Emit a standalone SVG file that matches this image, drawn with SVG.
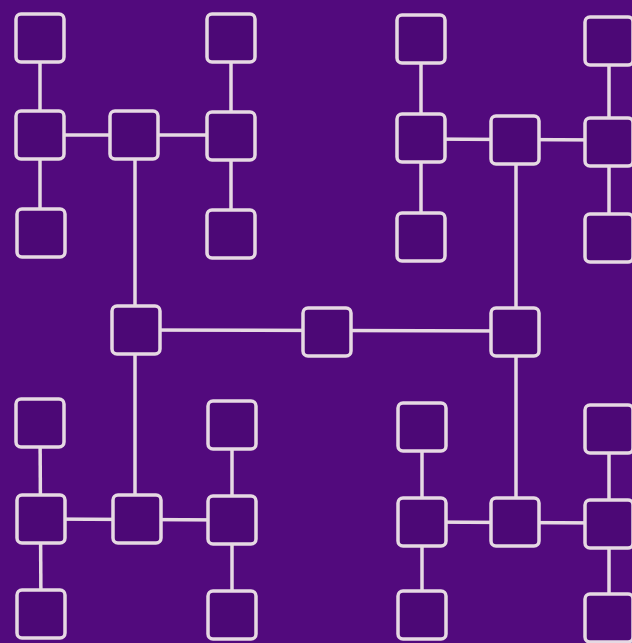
<svg xmlns="http://www.w3.org/2000/svg" width="632" height="643" viewBox="0 0 632 643">
<style>
.bg{fill:#520A7D}
.n{fill:#4C0876;stroke:#E6D9E3;stroke-width:3.5}
.c{stroke:#E6D9E3;stroke-width:3.5;fill:none;stroke-linecap:butt}
</style>
<defs><rect id="sq" x="-24" y="-24" width="48" height="48" rx="5" class="n"/></defs>
<rect class="bg" x="0" y="0" width="632" height="643"/>
<g id="connectors" class="c">
<line x1="40" y1="38" x2="40" y2="233"/>
<line x1="40" y1="135" x2="231" y2="135"/>
<line x1="231" y1="38" x2="231" y2="234"/>
<line x1="135" y1="135" x2="135" y2="519"/>
<line x1="421" y1="39" x2="421" y2="237"/>
<line x1="421" y1="139" x2="609" y2="140"/>
<line x1="609" y1="41" x2="609" y2="238"/>
<line x1="516" y1="140" x2="516" y2="522"/>
<line x1="136" y1="330" x2="515" y2="331"/>
<line x1="40" y1="423" x2="41" y2="614"/>
<line x1="41" y1="519" x2="232" y2="520"/>
<line x1="232" y1="425" x2="232" y2="615"/>
<line x1="422" y1="427" x2="422" y2="615"/>
<line x1="422" y1="522" x2="609" y2="523"/>
<line x1="609" y1="429" x2="609" y2="618"/>
</g>
<g id="n1"><use href="#sq" x="40" y="38"/></g>
<g id="n2"><use href="#sq" x="40" y="135"/></g>
<g id="n3"><use href="#sq" x="41" y="233"/></g>
<g id="n4"><use href="#sq" x="134" y="135"/></g>
<g id="n5"><use href="#sq" x="231" y="38"/></g>
<g id="n6"><use href="#sq" x="231" y="136"/></g>
<g id="n7"><use href="#sq" x="231" y="234"/></g>
<g id="n8"><use href="#sq" x="421" y="39"/></g>
<g id="n9"><use href="#sq" x="421" y="138"/></g>
<g id="n10"><use href="#sq" x="421" y="237"/></g>
<g id="n11"><use href="#sq" x="515" y="140"/></g>
<g id="n12"><use href="#sq" x="609" y="41"/></g>
<g id="n13"><use href="#sq" x="609" y="142"/></g>
<g id="n14"><use href="#sq" x="609" y="238"/></g>
<g id="n15"><use href="#sq" x="136" y="330"/></g>
<g id="n16"><use href="#sq" x="327" y="332"/></g>
<g id="n17"><use href="#sq" x="515" y="332"/></g>
<g id="n18"><use href="#sq" x="40" y="423"/></g>
<g id="n19"><use href="#sq" x="41" y="519"/></g>
<g id="n20"><use href="#sq" x="41" y="614"/></g>
<g id="n21"><use href="#sq" x="137" y="519"/></g>
<g id="n22"><use href="#sq" x="232" y="425"/></g>
<g id="n23"><use href="#sq" x="232" y="520"/></g>
<g id="n24"><use href="#sq" x="232" y="615"/></g>
<g id="n25"><use href="#sq" x="422" y="427"/></g>
<g id="n26"><use href="#sq" x="422" y="522"/></g>
<g id="n27"><use href="#sq" x="422" y="615"/></g>
<g id="n28"><use href="#sq" x="515" y="522"/></g>
<g id="n29"><use href="#sq" x="609" y="429"/></g>
<g id="n30"><use href="#sq" x="609" y="524"/></g>
<g id="n31"><use href="#sq" x="609" y="618"/></g>
</svg>
